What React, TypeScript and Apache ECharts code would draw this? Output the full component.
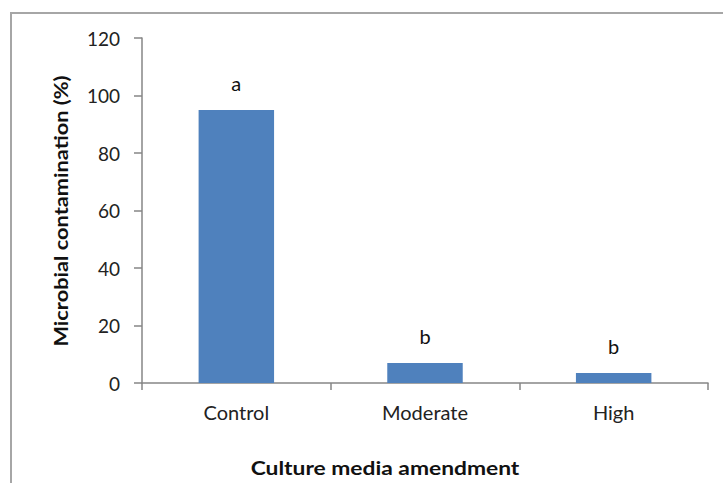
import React, { useEffect, useRef } from "react";
import * as echarts from "echarts";

const categories = ["Control", "Moderate", "High"];
const values = [95, 7, 3.5];
const letters = ["a", "b", "b"];
const yTicks = { min: 0, max: 120, interval: 20 };

export default function App() {
  const ref = useRef<HTMLDivElement>(null);
  useEffect(() => {
    const chart = echarts.init(ref.current!, null, { renderer: "svg" });
    chart.setOption({
      animation: false,
      backgroundColor: "#ffffff",
      grid: { left: 142, right: 15, top: 38, bottom: 100 },
      xAxis: {
        type: "category",
        data: categories,
        axisLine: { lineStyle: { color: "#868686", width: 1.5 } },
        axisTick: { show: true, length: 7, lineStyle: { color: "#868686", width: 1.5 } },
        axisLabel: { fontFamily: "Lato", fontSize: 20, color: "#222", margin: 19 },
      },
      yAxis: {
        type: "value",
        min: yTicks.min,
        max: yTicks.max,
        interval: yTicks.interval,
        splitLine: { show: false },
        axisLine: { show: true, lineStyle: { color: "#868686", width: 1.5 } },
        axisTick: { show: true, length: 8, lineStyle: { color: "#868686", width: 1.5 } },
        axisLabel: { fontFamily: "Lato", fontSize: 19, color: "#222", margin: 22 },
      },
      series: [
        {
          type: "bar",
          data: values.map((v, i) => ({
            value: v,
            label: {
              show: true,
              position: "top",
              distance: 17,
              formatter: letters[i],
              fontFamily: "Lato",
              fontSize: 20,
              color: "#111",
            },
          })),
          barWidth: "40%",
          itemStyle: { color: "#4F81BD" },
        },
      ],
      graphic: [
        {
          type: "rect",
          shape: { x: 11, y: 13, width: 740, height: 500 },
          style: { fill: "none", stroke: "#a6a6a6", lineWidth: 2 },
          silent: true,
        },
        {
          type: "text",
          x: 60,
          y: 211,
          rotation: Math.PI / 2,
          scaleX: 1.21,
          scaleY: 1.1,
          style: {
            text: "Microbial contamination (%)",
            fontFamily: "Lato",
            fontWeight: "bold",
            fontSize: 18,
            fill: "#111",
            align: "center",
            verticalAlign: "middle",
          },
        },
        {
          type: "text",
          x: 385,
          y: 467,
          scaleX: 1.2,
          style: {
            text: "Culture media amendment",
            fontFamily: "Lato",
            fontWeight: "bold",
            fontSize: 19,
            fill: "#111",
            align: "center",
            verticalAlign: "middle",
          },
        },
      ],
    });
    return () => chart.dispose();
  }, []);
  return <div ref={ref} style={{ width: 723, height: 483, position: "fixed", left: 0, top: 0 }} />;
}
